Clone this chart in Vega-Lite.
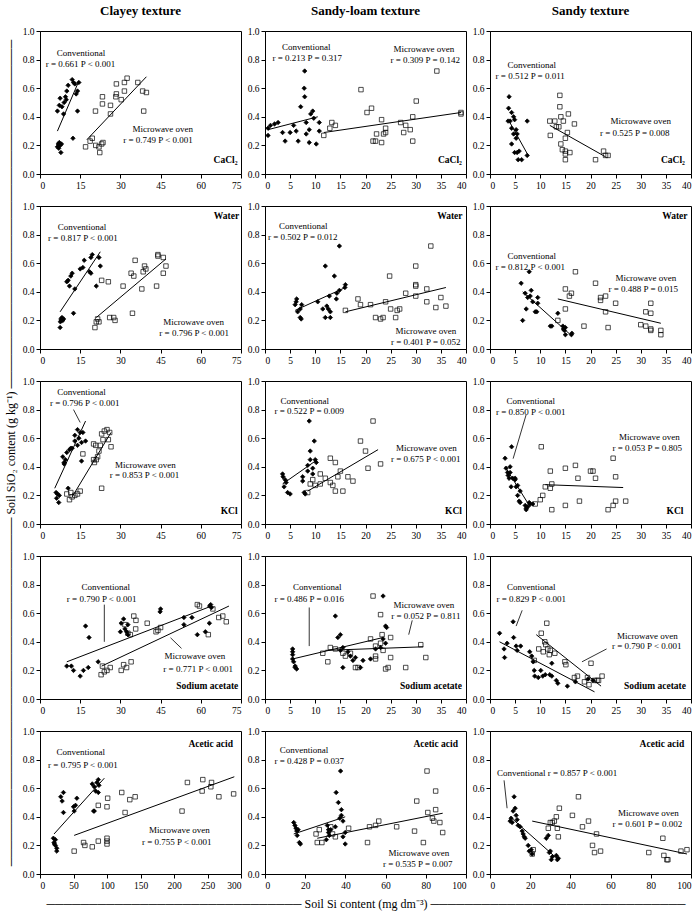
{
"$schema": "https://vega.github.io/schema/vega-lite/v6.json",
"padding": {"top": 4, "left": 3, "right": 5, "bottom": 4},
"background": "white",
"config": {
  "view": {"stroke": "black", "strokeWidth": 1},
  "axis": {"labelFont": "Liberation Serif", "labelFontSize": 9.5, "labelColor": "black", "domainColor": "black", "tickColor": "black", "tickSize": 4, "grid": false, "titleFont": "Liberation Serif", "titleFontWeight": "normal", "titleFontSize": 12, "titleColor": "black"},
  "title": {"font": "Liberation Serif", "fontSize": 13, "fontWeight": "bold", "offset": 8, "color": "black"}
},
"datasets": {
"pts": [
{"p":"1a","m":"C","x":6.5,"y":0.19},{"p":"1a","m":"C","x":6.8,"y":0.21},{"p":"1a","m":"C","x":7,"y":0.18},{"p":"1a","m":"C","x":7.2,"y":0.22},{"p":"1a","m":"C","x":7.5,"y":0.2},{"p":"1a","m":"C","x":7.8,"y":0.15},{"p":"1a","m":"C","x":8,"y":0.21},{"p":"1a","m":"C","x":6.5,"y":0.44},{"p":"1a","m":"C","x":7.2,"y":0.48},{"p":"1a","m":"C","x":7.5,"y":0.53},{"p":"1a","m":"C","x":8.2,"y":0.47},{"p":"1a","m":"C","x":8.8,"y":0.42},{"p":"1a","m":"C","x":9,"y":0.5},{"p":"1a","m":"C","x":9.5,"y":0.54},{"p":"1a","m":"C","x":9.8,"y":0.52},{"p":"1a","m":"C","x":10,"y":0.58},{"p":"1a","m":"C","x":10.5,"y":0.62},{"p":"1a","m":"C","x":12.3,"y":0.25},{"p":"1a","m":"C","x":12,"y":0.66},{"p":"1a","m":"C","x":12.5,"y":0.64},{"p":"1a","m":"C","x":13,"y":0.63},{"p":"1a","m":"C","x":13.5,"y":0.56},{"p":"1a","m":"C","x":14,"y":0.58},{"p":"1a","m":"C","x":14.5,"y":0.64},{"p":"1a","m":"C","x":14,"y":0.44},
{"p":"1a","m":"M","x":17,"y":0.19},{"p":"1a","m":"M","x":18.7,"y":0.23},{"p":"1a","m":"M","x":19.5,"y":0.25},{"p":"1a","m":"M","x":20.8,"y":0.2},{"p":"1a","m":"M","x":22,"y":0.19},{"p":"1a","m":"M","x":22.3,"y":0.15},{"p":"1a","m":"M","x":23,"y":0.21},{"p":"1a","m":"M","x":23.5,"y":0.22},{"p":"1a","m":"M","x":20.7,"y":0.44},{"p":"1a","m":"M","x":23.3,"y":0.54},{"p":"1a","m":"M","x":23.3,"y":0.49},{"p":"1a","m":"M","x":26.3,"y":0.48},{"p":"1a","m":"M","x":26.3,"y":0.42},{"p":"1a","m":"M","x":28.5,"y":0.56},{"p":"1a","m":"M","x":28.5,"y":0.63},{"p":"1a","m":"M","x":28.3,"y":0.54},{"p":"1a","m":"M","x":30.3,"y":0.52},{"p":"1a","m":"M","x":31.5,"y":0.58},{"p":"1a","m":"M","x":31.5,"y":0.64},{"p":"1a","m":"M","x":32.5,"y":0.67},{"p":"1a","m":"M","x":36.5,"y":0.64},{"p":"1a","m":"M","x":38.3,"y":0.58},{"p":"1a","m":"M","x":38.7,"y":0.44},{"p":"1a","m":"M","x":39.7,"y":0.57},
{"p":"1b","m":"C","x":0.6,"y":0.27},{"p":"1b","m":"C","x":0.6,"y":0.32},{"p":"1b","m":"C","x":1.1,"y":0.34},{"p":"1b","m":"C","x":1.9,"y":0.35},{"p":"1b","m":"C","x":2.6,"y":0.36},{"p":"1b","m":"C","x":3.5,"y":0.29},{"p":"1b","m":"C","x":4,"y":0.23},{"p":"1b","m":"C","x":5,"y":0.29},{"p":"1b","m":"C","x":5.7,"y":0.34},{"p":"1b","m":"C","x":6.2,"y":0.3},{"p":"1b","m":"C","x":6.6,"y":0.23},{"p":"1b","m":"C","x":7.1,"y":0.47},{"p":"1b","m":"C","x":7.8,"y":0.6},{"p":"1b","m":"C","x":7.9,"y":0.54},{"p":"1b","m":"C","x":7.9,"y":0.72},{"p":"1b","m":"C","x":8.2,"y":0.36},{"p":"1b","m":"C","x":8.2,"y":0.28},{"p":"1b","m":"C","x":8.8,"y":0.31},{"p":"1b","m":"C","x":8.8,"y":0.22},{"p":"1b","m":"C","x":9.1,"y":0.42},{"p":"1b","m":"C","x":9.5,"y":0.44},{"p":"1b","m":"C","x":9.7,"y":0.39},{"p":"1b","m":"C","x":10.2,"y":0.21},{"p":"1b","m":"C","x":10.8,"y":0.36},{"p":"1b","m":"C","x":10.8,"y":0.3},
{"p":"1b","m":"M","x":11.7,"y":0.27},{"p":"1b","m":"M","x":12.9,"y":0.32},{"p":"1b","m":"M","x":13.3,"y":0.36},{"p":"1b","m":"M","x":14,"y":0.34},{"p":"1b","m":"M","x":19.1,"y":0.59},{"p":"1b","m":"M","x":20.3,"y":0.43},{"p":"1b","m":"M","x":21.2,"y":0.46},{"p":"1b","m":"M","x":21.5,"y":0.23},{"p":"1b","m":"M","x":22,"y":0.23},{"p":"1b","m":"M","x":22.2,"y":0.28},{"p":"1b","m":"M","x":23.2,"y":0.38},{"p":"1b","m":"M","x":23.2,"y":0.22},{"p":"1b","m":"M","x":23.6,"y":0.28},{"p":"1b","m":"M","x":24,"y":0.29},{"p":"1b","m":"M","x":24,"y":0.32},{"p":"1b","m":"M","x":27,"y":0.36},{"p":"1b","m":"M","x":27.6,"y":0.29},{"p":"1b","m":"M","x":28,"y":0.34},{"p":"1b","m":"M","x":28.9,"y":0.31},{"p":"1b","m":"M","x":29.4,"y":0.23},{"p":"1b","m":"M","x":29.4,"y":0.4},{"p":"1b","m":"M","x":30.1,"y":0.51},{"p":"1b","m":"M","x":34.2,"y":0.72},{"p":"1b","m":"M","x":39,"y":0.43},{"p":"1b","m":"M","x":39,"y":0.42},
{"p":"1c","m":"C","x":3.8,"y":0.54},{"p":"1c","m":"C","x":3.7,"y":0.46},{"p":"1c","m":"C","x":3.6,"y":0.37},{"p":"1c","m":"C","x":4,"y":0.37},{"p":"1c","m":"C","x":4.3,"y":0.32},{"p":"1c","m":"C","x":4.3,"y":0.21},{"p":"1c","m":"C","x":4.7,"y":0.4},{"p":"1c","m":"C","x":4.9,"y":0.38},{"p":"1c","m":"C","x":4.7,"y":0.28},{"p":"1c","m":"C","x":5.2,"y":0.31},{"p":"1c","m":"C","x":5.2,"y":0.25},{"p":"1c","m":"C","x":5.4,"y":0.28},{"p":"1c","m":"C","x":4.9,"y":0.15},{"p":"1c","m":"C","x":5.4,"y":0.15},{"p":"1c","m":"C","x":5.8,"y":0.16},{"p":"1c","m":"C","x":5.6,"y":0.1},{"p":"1c","m":"C","x":6.3,"y":0.1},{"p":"1c","m":"C","x":7.4,"y":0.37},{"p":"1c","m":"C","x":7.4,"y":0.13},{"p":"1c","m":"C","x":4.3,"y":0.43},
{"p":"1c","m":"M","x":11.9,"y":0.37},{"p":"1c","m":"M","x":12,"y":0.27},{"p":"1c","m":"M","x":12.9,"y":0.37},{"p":"1c","m":"M","x":13.2,"y":0.33},{"p":"1c","m":"M","x":13.7,"y":0.33},{"p":"1c","m":"M","x":13.9,"y":0.55},{"p":"1c","m":"M","x":13.9,"y":0.47},{"p":"1c","m":"M","x":14.1,"y":0.4},{"p":"1c","m":"M","x":14.1,"y":0.21},{"p":"1c","m":"M","x":14.6,"y":0.37},{"p":"1c","m":"M","x":14.4,"y":0.17},{"p":"1c","m":"M","x":15,"y":0.16},{"p":"1c","m":"M","x":15,"y":0.14},{"p":"1c","m":"M","x":15,"y":0.1},{"p":"1c","m":"M","x":15,"y":0.25},{"p":"1c","m":"M","x":15.4,"y":0.29},{"p":"1c","m":"M","x":15.6,"y":0.42},{"p":"1c","m":"M","x":15.9,"y":0.15},{"p":"1c","m":"M","x":16.8,"y":0.35},{"p":"1c","m":"M","x":21,"y":0.1},{"p":"1c","m":"M","x":22.6,"y":0.16},{"p":"1c","m":"M","x":23,"y":0.13},{"p":"1c","m":"M","x":23.5,"y":0.13},
{"p":"2a","m":"C","x":7.5,"y":0.15},{"p":"2a","m":"C","x":7.6,"y":0.19},{"p":"2a","m":"C","x":7.8,"y":0.21},{"p":"2a","m":"C","x":8,"y":0.2},{"p":"2a","m":"C","x":8.2,"y":0.22},{"p":"2a","m":"C","x":8.5,"y":0.2},{"p":"2a","m":"C","x":8.8,"y":0.21},{"p":"2a","m":"C","x":10,"y":0.47},{"p":"2a","m":"C","x":10.5,"y":0.48},{"p":"2a","m":"C","x":11,"y":0.44},{"p":"2a","m":"C","x":11.5,"y":0.51},{"p":"2a","m":"C","x":12,"y":0.53},{"p":"2a","m":"C","x":12.5,"y":0.25},{"p":"2a","m":"C","x":13,"y":0.42},{"p":"2a","m":"C","x":15,"y":0.56},{"p":"2a","m":"C","x":16,"y":0.57},{"p":"2a","m":"C","x":16.5,"y":0.62},{"p":"2a","m":"C","x":18.5,"y":0.54},{"p":"2a","m":"C","x":19,"y":0.53},{"p":"2a","m":"C","x":19,"y":0.64},{"p":"2a","m":"C","x":19.5,"y":0.66},{"p":"2a","m":"C","x":21,"y":0.44},{"p":"2a","m":"C","x":22,"y":0.64},{"p":"2a","m":"C","x":22.5,"y":0.58},
{"p":"2a","m":"M","x":20.5,"y":0.15},{"p":"2a","m":"M","x":21,"y":0.19},{"p":"2a","m":"M","x":21.5,"y":0.21},{"p":"2a","m":"M","x":22,"y":0.19},{"p":"2a","m":"M","x":23,"y":0.48},{"p":"2a","m":"M","x":25.5,"y":0.47},{"p":"2a","m":"M","x":26,"y":0.22},{"p":"2a","m":"M","x":27.5,"y":0.22},{"p":"2a","m":"M","x":28,"y":0.2},{"p":"2a","m":"M","x":31,"y":0.44},{"p":"2a","m":"M","x":34,"y":0.53},{"p":"2a","m":"M","x":34.5,"y":0.25},{"p":"2a","m":"M","x":35,"y":0.51},{"p":"2a","m":"M","x":35.5,"y":0.62},{"p":"2a","m":"M","x":38,"y":0.42},{"p":"2a","m":"M","x":38.5,"y":0.54},{"p":"2a","m":"M","x":39,"y":0.58},{"p":"2a","m":"M","x":39.5,"y":0.56},{"p":"2a","m":"M","x":43.5,"y":0.44},{"p":"2a","m":"M","x":44,"y":0.66},{"p":"2a","m":"M","x":44,"y":0.65},{"p":"2a","m":"M","x":46,"y":0.64},{"p":"2a","m":"M","x":46,"y":0.53},{"p":"2a","m":"M","x":47,"y":0.58},
{"p":"2b","m":"C","x":6,"y":0.31},{"p":"2b","m":"C","x":6.2,"y":0.33},{"p":"2b","m":"C","x":6.3,"y":0.35},{"p":"2b","m":"C","x":6.5,"y":0.26},{"p":"2b","m":"C","x":7,"y":0.28},{"p":"2b","m":"C","x":7,"y":0.22},{"p":"2b","m":"C","x":7.2,"y":0.21},{"p":"2b","m":"C","x":7.3,"y":0.31},{"p":"2b","m":"C","x":10.5,"y":0.33},{"p":"2b","m":"C","x":11.5,"y":0.28},{"p":"2b","m":"C","x":12,"y":0.22},{"p":"2b","m":"C","x":12,"y":0.58},{"p":"2b","m":"C","x":12.3,"y":0.3},{"p":"2b","m":"C","x":12.6,"y":0.28},{"p":"2b","m":"C","x":12.8,"y":0.37},{"p":"2b","m":"C","x":13,"y":0.22},{"p":"2b","m":"C","x":13,"y":0.26},{"p":"2b","m":"C","x":13.8,"y":0.51},{"p":"2b","m":"C","x":14.2,"y":0.35},{"p":"2b","m":"C","x":14.3,"y":0.39},{"p":"2b","m":"C","x":14.8,"y":0.72},{"p":"2b","m":"C","x":14.8,"y":0.41},{"p":"2b","m":"C","x":15.9,"y":0.43},{"p":"2b","m":"C","x":16,"y":0.45},
{"p":"2b","m":"M","x":16,"y":0.27},{"p":"2b","m":"M","x":18.5,"y":0.35},{"p":"2b","m":"M","x":19,"y":0.31},{"p":"2b","m":"M","x":21,"y":0.31},{"p":"2b","m":"M","x":22,"y":0.22},{"p":"2b","m":"M","x":23,"y":0.21},{"p":"2b","m":"M","x":23.5,"y":0.22},{"p":"2b","m":"M","x":24,"y":0.33},{"p":"2b","m":"M","x":24.8,"y":0.51},{"p":"2b","m":"M","x":25,"y":0.28},{"p":"2b","m":"M","x":26,"y":0.22},{"p":"2b","m":"M","x":26.3,"y":0.27},{"p":"2b","m":"M","x":26.8,"y":0.28},{"p":"2b","m":"M","x":28,"y":0.39},{"p":"2b","m":"M","x":30,"y":0.58},{"p":"2b","m":"M","x":30,"y":0.44},{"p":"2b","m":"M","x":30,"y":0.45},{"p":"2b","m":"M","x":30,"y":0.37},{"p":"2b","m":"M","x":32.2,"y":0.42},{"p":"2b","m":"M","x":32.2,"y":0.33},{"p":"2b","m":"M","x":33,"y":0.72},{"p":"2b","m":"M","x":34,"y":0.29},{"p":"2b","m":"M","x":35,"y":0.36},{"p":"2b","m":"M","x":36,"y":0.3},
{"p":"2c","m":"C","x":6.2,"y":0.46},{"p":"2c","m":"C","x":6.5,"y":0.2},{"p":"2c","m":"C","x":7,"y":0.39},{"p":"2c","m":"C","x":7.2,"y":0.28},{"p":"2c","m":"C","x":7.5,"y":0.36},{"p":"2c","m":"C","x":7.8,"y":0.54},{"p":"2c","m":"C","x":8,"y":0.37},{"p":"2c","m":"C","x":8.2,"y":0.41},{"p":"2c","m":"C","x":8.5,"y":0.33},{"p":"2c","m":"C","x":9,"y":0.26},{"p":"2c","m":"C","x":9.3,"y":0.26},{"p":"2c","m":"C","x":9.5,"y":0.36},{"p":"2c","m":"C","x":9.5,"y":0.32},{"p":"2c","m":"C","x":12,"y":0.16},{"p":"2c","m":"C","x":12.3,"y":0.16},{"p":"2c","m":"C","x":13.5,"y":0.25},{"p":"2c","m":"C","x":14.5,"y":0.16},{"p":"2c","m":"C","x":14.6,"y":0.14},{"p":"2c","m":"C","x":14.8,"y":0.13},{"p":"2c","m":"C","x":15,"y":0.15},{"p":"2c","m":"C","x":15,"y":0.1},{"p":"2c","m":"C","x":16.2,"y":0.1},{"p":"2c","m":"C","x":16.3,"y":0.11},
{"p":"2c","m":"M","x":13.5,"y":0.2},{"p":"2c","m":"M","x":15,"y":0.42},{"p":"2c","m":"M","x":15,"y":0.28},{"p":"2c","m":"M","x":15.8,"y":0.37},{"p":"2c","m":"M","x":16.2,"y":0.39},{"p":"2c","m":"M","x":17,"y":0.54},{"p":"2c","m":"M","x":18.7,"y":0.16},{"p":"2c","m":"M","x":21,"y":0.46},{"p":"2c","m":"M","x":22,"y":0.34},{"p":"2c","m":"M","x":22,"y":0.36},{"p":"2c","m":"M","x":23,"y":0.37},{"p":"2c","m":"M","x":23,"y":0.26},{"p":"2c","m":"M","x":23.5,"y":0.15},{"p":"2c","m":"M","x":25,"y":0.32},{"p":"2c","m":"M","x":30,"y":0.17},{"p":"2c","m":"M","x":31,"y":0.26},{"p":"2c","m":"M","x":31,"y":0.16},{"p":"2c","m":"M","x":32,"y":0.32},{"p":"2c","m":"M","x":32,"y":0.25},{"p":"2c","m":"M","x":32,"y":0.14},{"p":"2c","m":"M","x":32,"y":0.13},{"p":"2c","m":"M","x":34,"y":0.13},{"p":"2c","m":"M","x":34,"y":0.1},
{"p":"3a","m":"C","x":6,"y":0.22},{"p":"3a","m":"C","x":6.2,"y":0.18},{"p":"3a","m":"C","x":6.5,"y":0.21},{"p":"3a","m":"C","x":7,"y":0.15},{"p":"3a","m":"C","x":7.2,"y":0.2},{"p":"3a","m":"C","x":8.5,"y":0.47},{"p":"3a","m":"C","x":9,"y":0.43},{"p":"3a","m":"C","x":9,"y":0.42},{"p":"3a","m":"C","x":9.5,"y":0.45},{"p":"3a","m":"C","x":10,"y":0.5},{"p":"3a","m":"C","x":10.5,"y":0.25},{"p":"3a","m":"C","x":11,"y":0.52},{"p":"3a","m":"C","x":11.5,"y":0.53},{"p":"3a","m":"C","x":12,"y":0.53},{"p":"3a","m":"C","x":13,"y":0.58},{"p":"3a","m":"C","x":13,"y":0.62},{"p":"3a","m":"C","x":14,"y":0.55},{"p":"3a","m":"C","x":14,"y":0.66},{"p":"3a","m":"C","x":14.5,"y":0.6},{"p":"3a","m":"C","x":15,"y":0.64},{"p":"3a","m":"C","x":15.5,"y":0.57},{"p":"3a","m":"C","x":16,"y":0.64},{"p":"3a","m":"C","x":15.5,"y":0.44},{"p":"3a","m":"C","x":17,"y":0.58},
{"p":"3a","m":"M","x":10,"y":0.21},{"p":"3a","m":"M","x":11,"y":0.17},{"p":"3a","m":"M","x":11.5,"y":0.22},{"p":"3a","m":"M","x":12,"y":0.19},{"p":"3a","m":"M","x":13,"y":0.2},{"p":"3a","m":"M","x":14,"y":0.21},{"p":"3a","m":"M","x":15,"y":0.23},{"p":"3a","m":"M","x":16,"y":0.49},{"p":"3a","m":"M","x":20,"y":0.56},{"p":"3a","m":"M","x":20,"y":0.45},{"p":"3a","m":"M","x":20.3,"y":0.43},{"p":"3a","m":"M","x":20.8,"y":0.55},{"p":"3a","m":"M","x":21,"y":0.45},{"p":"3a","m":"M","x":21.5,"y":0.47},{"p":"3a","m":"M","x":22,"y":0.51},{"p":"3a","m":"M","x":22.5,"y":0.55},{"p":"3a","m":"M","x":23,"y":0.25},{"p":"3a","m":"M","x":23,"y":0.63},{"p":"3a","m":"M","x":23.5,"y":0.59},{"p":"3a","m":"M","x":24,"y":0.65},{"p":"3a","m":"M","x":25,"y":0.66},{"p":"3a","m":"M","x":25.5,"y":0.59},{"p":"3a","m":"M","x":26,"y":0.64},{"p":"3a","m":"M","x":26.5,"y":0.54},
{"p":"3b","m":"C","x":3.5,"y":0.35},{"p":"3b","m":"C","x":3.6,"y":0.33},{"p":"3b","m":"C","x":3.8,"y":0.26},{"p":"3b","m":"C","x":4,"y":0.31},{"p":"3b","m":"C","x":4.2,"y":0.29},{"p":"3b","m":"C","x":4.5,"y":0.22},{"p":"3b","m":"C","x":5,"y":0.21},{"p":"3b","m":"C","x":7.5,"y":0.33},{"p":"3b","m":"C","x":7.5,"y":0.3},{"p":"3b","m":"C","x":7.8,"y":0.22},{"p":"3b","m":"C","x":8,"y":0.21},{"p":"3b","m":"C","x":8.5,"y":0.37},{"p":"3b","m":"C","x":8.5,"y":0.41},{"p":"3b","m":"C","x":8.8,"y":0.72},{"p":"3b","m":"C","x":9,"y":0.51},{"p":"3b","m":"C","x":9,"y":0.45},{"p":"3b","m":"C","x":9.5,"y":0.35},{"p":"3b","m":"C","x":9.5,"y":0.39},{"p":"3b","m":"C","x":9.8,"y":0.58},{"p":"3b","m":"C","x":10,"y":0.45},{"p":"3b","m":"C","x":10.2,"y":0.43},
{"p":"3b","m":"M","x":8.5,"y":0.22},{"p":"3b","m":"M","x":9,"y":0.28},{"p":"3b","m":"M","x":9.5,"y":0.31},{"p":"3b","m":"M","x":10,"y":0.27},{"p":"3b","m":"M","x":11,"y":0.28},{"p":"3b","m":"M","x":11,"y":0.35},{"p":"3b","m":"M","x":12,"y":0.32},{"p":"3b","m":"M","x":13,"y":0.46},{"p":"3b","m":"M","x":13,"y":0.29},{"p":"3b","m":"M","x":13.5,"y":0.27},{"p":"3b","m":"M","x":14,"y":0.43},{"p":"3b","m":"M","x":14,"y":0.23},{"p":"3b","m":"M","x":14.5,"y":0.33},{"p":"3b","m":"M","x":15,"y":0.37},{"p":"3b","m":"M","x":15.5,"y":0.23},{"p":"3b","m":"M","x":16.5,"y":0.33},{"p":"3b","m":"M","x":17.5,"y":0.3},{"p":"3b","m":"M","x":19,"y":0.58},{"p":"3b","m":"M","x":20,"y":0.51},{"p":"3b","m":"M","x":20.5,"y":0.39},{"p":"3b","m":"M","x":21.5,"y":0.72},{"p":"3b","m":"M","x":23,"y":0.42},
{"p":"3c","m":"C","x":3,"y":0.46},{"p":"3c","m":"C","x":3.2,"y":0.39},{"p":"3c","m":"C","x":3.5,"y":0.36},{"p":"3c","m":"C","x":3.6,"y":0.34},{"p":"3c","m":"C","x":3.8,"y":0.32},{"p":"3c","m":"C","x":4,"y":0.36},{"p":"3c","m":"C","x":4,"y":0.4},{"p":"3c","m":"C","x":4.2,"y":0.26},{"p":"3c","m":"C","x":4.3,"y":0.54},{"p":"3c","m":"C","x":4.5,"y":0.32},{"p":"3c","m":"C","x":5,"y":0.31},{"p":"3c","m":"C","x":5,"y":0.32},{"p":"3c","m":"C","x":5.2,"y":0.26},{"p":"3c","m":"C","x":5.5,"y":0.27},{"p":"3c","m":"C","x":5.5,"y":0.2},{"p":"3c","m":"C","x":5.8,"y":0.16},{"p":"3c","m":"C","x":6,"y":0.15},{"p":"3c","m":"C","x":6,"y":0.23},{"p":"3c","m":"C","x":7,"y":0.13},{"p":"3c","m":"C","x":7.2,"y":0.11},{"p":"3c","m":"C","x":7.5,"y":0.12},{"p":"3c","m":"C","x":7.8,"y":0.15},{"p":"3c","m":"C","x":8,"y":0.14},{"p":"3c","m":"C","x":8.5,"y":0.14},{"p":"3c","m":"C","x":7.2,"y":0.1},
{"p":"3c","m":"M","x":9,"y":0.14},{"p":"3c","m":"M","x":10,"y":0.17},{"p":"3c","m":"M","x":10.2,"y":0.54},{"p":"3c","m":"M","x":10.5,"y":0.2},{"p":"3c","m":"M","x":11,"y":0.26},{"p":"3c","m":"M","x":12,"y":0.25},{"p":"3c","m":"M","x":12,"y":0.37},{"p":"3c","m":"M","x":12.3,"y":0.28},{"p":"3c","m":"M","x":12.3,"y":0.1},{"p":"3c","m":"M","x":15,"y":0.13},{"p":"3c","m":"M","x":15,"y":0.39},{"p":"3c","m":"M","x":17,"y":0.41},{"p":"3c","m":"M","x":17.5,"y":0.32},{"p":"3c","m":"M","x":17.8,"y":0.16},{"p":"3c","m":"M","x":20,"y":0.37},{"p":"3c","m":"M","x":20.5,"y":0.37},{"p":"3c","m":"M","x":21,"y":0.32},{"p":"3c","m":"M","x":23.5,"y":0.1},{"p":"3c","m":"M","x":24.5,"y":0.46},{"p":"3c","m":"M","x":24.5,"y":0.13},{"p":"3c","m":"M","x":25,"y":0.33},{"p":"3c","m":"M","x":25,"y":0.16},{"p":"3c","m":"M","x":27,"y":0.16},
{"p":"4a","m":"C","x":10,"y":0.23},{"p":"4a","m":"C","x":11.7,"y":0.23},{"p":"4a","m":"C","x":12.5,"y":0.2},{"p":"4a","m":"C","x":15,"y":0.16},{"p":"4a","m":"C","x":16.2,"y":0.2},{"p":"4a","m":"C","x":17,"y":0.51},{"p":"4a","m":"C","x":18.3,"y":0.43},{"p":"4a","m":"C","x":18,"y":0.22},{"p":"4a","m":"C","x":21.7,"y":0.26},{"p":"4a","m":"C","x":30,"y":0.47},{"p":"4a","m":"C","x":30.3,"y":0.53},{"p":"4a","m":"C","x":31.2,"y":0.56},{"p":"4a","m":"C","x":31.7,"y":0.49},{"p":"4a","m":"C","x":32.3,"y":0.47},{"p":"4a","m":"C","x":32.8,"y":0.45},{"p":"4a","m":"C","x":32.8,"y":0.52},{"p":"4a","m":"C","x":44.8,"y":0.61},{"p":"4a","m":"C","x":45,"y":0.63},{"p":"4a","m":"C","x":53.7,"y":0.52},{"p":"4a","m":"C","x":53.7,"y":0.57},{"p":"4a","m":"C","x":56.7,"y":0.57},{"p":"4a","m":"C","x":58.7,"y":0.45},{"p":"4a","m":"C","x":61.7,"y":0.47},{"p":"4a","m":"C","x":63.2,"y":0.53},{"p":"4a","m":"C","x":63.3,"y":0.65},{"p":"4a","m":"C","x":64,"y":0.64},{"p":"4a","m":"C","x":63.7,"y":0.66},
{"p":"4a","m":"M","x":22.8,"y":0.17},{"p":"4a","m":"M","x":23.3,"y":0.23},{"p":"4a","m":"M","x":24,"y":0.19},{"p":"4a","m":"M","x":25,"y":0.2},{"p":"4a","m":"M","x":26.2,"y":0.22},{"p":"4a","m":"M","x":30.3,"y":0.2},{"p":"4a","m":"M","x":31.2,"y":0.24},{"p":"4a","m":"M","x":32.3,"y":0.22},{"p":"4a","m":"M","x":34,"y":0.26},{"p":"4a","m":"M","x":31.7,"y":0.52},{"p":"4a","m":"M","x":32.8,"y":0.46},{"p":"4a","m":"M","x":33.7,"y":0.45},{"p":"4a","m":"M","x":35,"y":0.58},{"p":"4a","m":"M","x":35.7,"y":0.49},{"p":"4a","m":"M","x":35.8,"y":0.55},{"p":"4a","m":"M","x":40,"y":0.53},{"p":"4a","m":"M","x":43.3,"y":0.47},{"p":"4a","m":"M","x":44,"y":0.48},{"p":"4a","m":"M","x":45,"y":0.5},{"p":"4a","m":"M","x":58.7,"y":0.66},{"p":"4a","m":"M","x":59.5,"y":0.65},{"p":"4a","m":"M","x":62.8,"y":0.45},{"p":"4a","m":"M","x":64.5,"y":0.63},{"p":"4a","m":"M","x":66.7,"y":0.57},{"p":"4a","m":"M","x":68.2,"y":0.58},{"p":"4a","m":"M","x":69.5,"y":0.54},
{"p":"4b","m":"C","x":5.5,"y":0.35},{"p":"4b","m":"C","x":5.5,"y":0.33},{"p":"4b","m":"C","x":5.5,"y":0.31},{"p":"4b","m":"C","x":5.5,"y":0.28},{"p":"4b","m":"C","x":5.7,"y":0.26},{"p":"4b","m":"C","x":6,"y":0.23},{"p":"4b","m":"C","x":6,"y":0.22},{"p":"4b","m":"C","x":6.3,"y":0.21},{"p":"4b","m":"C","x":14,"y":0.58},{"p":"4b","m":"C","x":14.5,"y":0.43},{"p":"4b","m":"C","x":15,"y":0.34},{"p":"4b","m":"C","x":15,"y":0.45},{"p":"4b","m":"C","x":15.5,"y":0.22},{"p":"4b","m":"C","x":15.5,"y":0.36},{"p":"4b","m":"C","x":16.5,"y":0.33},{"p":"4b","m":"C","x":17,"y":0.3},{"p":"4b","m":"C","x":17.5,"y":0.27},{"p":"4b","m":"C","x":18,"y":0.29},{"p":"4b","m":"C","x":19,"y":0.22},{"p":"4b","m":"C","x":19.5,"y":0.27},{"p":"4b","m":"C","x":21,"y":0.28},{"p":"4b","m":"C","x":22,"y":0.35},{"p":"4b","m":"C","x":23,"y":0.36},{"p":"4b","m":"C","x":23.5,"y":0.72},{"p":"4b","m":"C","x":23.5,"y":0.42},{"p":"4b","m":"C","x":24,"y":0.51},{"p":"4b","m":"C","x":24.2,"y":0.5},{"p":"4b","m":"C","x":24,"y":0.39},
{"p":"4b","m":"M","x":11.5,"y":0.32},{"p":"4b","m":"M","x":12.5,"y":0.26},{"p":"4b","m":"M","x":13,"y":0.36},{"p":"4b","m":"M","x":14,"y":0.35},{"p":"4b","m":"M","x":15.5,"y":0.32},{"p":"4b","m":"M","x":16,"y":0.3},{"p":"4b","m":"M","x":17,"y":0.32},{"p":"4b","m":"M","x":18,"y":0.22},{"p":"4b","m":"M","x":18.5,"y":0.22},{"p":"4b","m":"M","x":21,"y":0.42},{"p":"4b","m":"M","x":21.5,"y":0.72},{"p":"4b","m":"M","x":22,"y":0.3},{"p":"4b","m":"M","x":22,"y":0.37},{"p":"4b","m":"M","x":22,"y":0.28},{"p":"4b","m":"M","x":23,"y":0.59},{"p":"4b","m":"M","x":23,"y":0.39},{"p":"4b","m":"M","x":23.3,"y":0.45},{"p":"4b","m":"M","x":23.5,"y":0.34},{"p":"4b","m":"M","x":24,"y":0.21},{"p":"4b","m":"M","x":24.5,"y":0.22},{"p":"4b","m":"M","x":25,"y":0.43},{"p":"4b","m":"M","x":25,"y":0.29},{"p":"4b","m":"M","x":28,"y":0.22},{"p":"4b","m":"M","x":31,"y":0.38},{"p":"4b","m":"M","x":32,"y":0.29},
{"p":"4c","m":"C","x":1.9,"y":0.46},{"p":"4c","m":"C","x":2.8,"y":0.35},{"p":"4c","m":"C","x":2.9,"y":0.29},{"p":"4c","m":"C","x":3.4,"y":0.39},{"p":"4c","m":"C","x":4.6,"y":0.54},{"p":"4c","m":"C","x":4.7,"y":0.43},{"p":"4c","m":"C","x":5.2,"y":0.37},{"p":"4c","m":"C","x":5.4,"y":0.34},{"p":"4c","m":"C","x":6.1,"y":0.37},{"p":"4c","m":"C","x":7.9,"y":0.33},{"p":"4c","m":"C","x":8.3,"y":0.3},{"p":"4c","m":"C","x":8.6,"y":0.26},{"p":"4c","m":"C","x":8.8,"y":0.2},{"p":"4c","m":"C","x":8.9,"y":0.16},{"p":"4c","m":"C","x":9.6,"y":0.15},{"p":"4c","m":"C","x":10.1,"y":0.2},{"p":"4c","m":"C","x":10.5,"y":0.16},{"p":"4c","m":"C","x":11,"y":0.17},{"p":"4c","m":"C","x":11.9,"y":0.17},{"p":"4c","m":"C","x":12.3,"y":0.16},{"p":"4c","m":"C","x":12.3,"y":0.25},{"p":"4c","m":"C","x":13.2,"y":0.13},{"p":"4c","m":"C","x":13.5,"y":0.11},{"p":"4c","m":"C","x":15.4,"y":0.09},{"p":"4c","m":"C","x":17,"y":0.12},{"p":"4c","m":"C","x":19.5,"y":0.14},{"p":"4c","m":"C","x":20.5,"y":0.13},
{"p":"4c","m":"M","x":8.8,"y":0.27},{"p":"4c","m":"M","x":9.7,"y":0.35},{"p":"4c","m":"M","x":10.2,"y":0.46},{"p":"4c","m":"M","x":10.6,"y":0.33},{"p":"4c","m":"M","x":10.9,"y":0.4},{"p":"4c","m":"M","x":11.1,"y":0.38},{"p":"4c","m":"M","x":11.3,"y":0.53},{"p":"4c","m":"M","x":11.5,"y":0.35},{"p":"4c","m":"M","x":11.8,"y":0.31},{"p":"4c","m":"M","x":12,"y":0.34},{"p":"4c","m":"M","x":12.9,"y":0.32},{"p":"4c","m":"M","x":14.9,"y":0.26},{"p":"4c","m":"M","x":15.1,"y":0.24},{"p":"4c","m":"M","x":16.8,"y":0.15},{"p":"4c","m":"M","x":17.4,"y":0.16},{"p":"4c","m":"M","x":18.8,"y":0.12},{"p":"4c","m":"M","x":19.4,"y":0.15},{"p":"4c","m":"M","x":19.7,"y":0.1},{"p":"4c","m":"M","x":20.1,"y":0.25},{"p":"4c","m":"M","x":20.8,"y":0.13},{"p":"4c","m":"M","x":21.3,"y":0.13},{"p":"4c","m":"M","x":21.6,"y":0.13},{"p":"4c","m":"M","x":22.3,"y":0.16},
{"p":"5a","m":"C","x":20,"y":0.25},{"p":"5a","m":"C","x":21,"y":0.22},{"p":"5a","m":"C","x":21.5,"y":0.21},{"p":"5a","m":"C","x":23,"y":0.24},{"p":"5a","m":"C","x":23,"y":0.2},{"p":"5a","m":"C","x":25,"y":0.18},{"p":"5a","m":"C","x":25,"y":0.16},{"p":"5a","m":"C","x":31,"y":0.54},{"p":"5a","m":"C","x":35,"y":0.57},{"p":"5a","m":"C","x":33,"y":0.51},{"p":"5a","m":"C","x":35,"y":0.43},{"p":"5a","m":"C","x":50,"y":0.47},{"p":"5a","m":"C","x":53,"y":0.48},{"p":"5a","m":"C","x":55,"y":0.53},{"p":"5a","m":"C","x":51,"y":0.44},{"p":"5a","m":"C","x":78,"y":0.63},{"p":"5a","m":"C","x":80,"y":0.44},{"p":"5a","m":"C","x":81,"y":0.44},{"p":"5a","m":"C","x":81,"y":0.61},{"p":"5a","m":"C","x":85,"y":0.64},{"p":"5a","m":"C","x":87,"y":0.66},{"p":"5a","m":"C","x":87,"y":0.57},{"p":"5a","m":"C","x":83,"y":0.58},{"p":"5a","m":"C","x":88,"y":0.62},
{"p":"5a","m":"M","x":51,"y":0.16},{"p":"5a","m":"M","x":65,"y":0.22},{"p":"5a","m":"M","x":67,"y":0.2},{"p":"5a","m":"M","x":78,"y":0.19},{"p":"5a","m":"M","x":87,"y":0.23},{"p":"5a","m":"M","x":87,"y":0.48},{"p":"5a","m":"M","x":100,"y":0.25},{"p":"5a","m":"M","x":100,"y":0.23},{"p":"5a","m":"M","x":100,"y":0.21},{"p":"5a","m":"M","x":100,"y":0.47},{"p":"5a","m":"M","x":101,"y":0.53},{"p":"5a","m":"M","x":122,"y":0.57},{"p":"5a","m":"M","x":127,"y":0.43},{"p":"5a","m":"M","x":134,"y":0.52},{"p":"5a","m":"M","x":142,"y":0.54},{"p":"5a","m":"M","x":212,"y":0.44},{"p":"5a","m":"M","x":220,"y":0.64},{"p":"5a","m":"M","x":242,"y":0.58},{"p":"5a","m":"M","x":243,"y":0.66},{"p":"5a","m":"M","x":255,"y":0.61},{"p":"5a","m":"M","x":256,"y":0.64},{"p":"5a","m":"M","x":267,"y":0.54},{"p":"5a","m":"M","x":289,"y":0.56},
{"p":"5b","m":"C","x":14.3,"y":0.36},{"p":"5b","m":"C","x":14.9,"y":0.34},{"p":"5b","m":"C","x":15.4,"y":0.32},{"p":"5b","m":"C","x":15.8,"y":0.3},{"p":"5b","m":"C","x":16,"y":0.27},{"p":"5b","m":"C","x":17.1,"y":0.22},{"p":"5b","m":"C","x":17.6,"y":0.21},{"p":"5b","m":"C","x":16.5,"y":0.31},{"p":"5b","m":"C","x":30.5,"y":0.24},{"p":"5b","m":"C","x":31,"y":0.34},{"p":"5b","m":"C","x":31.6,"y":0.31},{"p":"5b","m":"C","x":31.6,"y":0.29},{"p":"5b","m":"C","x":32,"y":0.27},{"p":"5b","m":"C","x":32.7,"y":0.31},{"p":"5b","m":"C","x":35,"y":0.33},{"p":"5b","m":"C","x":35.4,"y":0.57},{"p":"5b","m":"C","x":36.5,"y":0.5},{"p":"5b","m":"C","x":37.2,"y":0.39},{"p":"5b","m":"C","x":37.6,"y":0.72},{"p":"5b","m":"C","x":38,"y":0.45},{"p":"5b","m":"C","x":38,"y":0.41},{"p":"5b","m":"C","x":38.8,"y":0.37},{"p":"5b","m":"C","x":38.8,"y":0.26},{"p":"5b","m":"C","x":39.9,"y":0.21},{"p":"5b","m":"C","x":39.9,"y":0.29},
{"p":"5b","m":"M","x":25.4,"y":0.28},{"p":"5b","m":"M","x":26,"y":0.22},{"p":"5b","m":"M","x":27,"y":0.31},{"p":"5b","m":"M","x":28.3,"y":0.22},{"p":"5b","m":"M","x":32.7,"y":0.33},{"p":"5b","m":"M","x":33.6,"y":0.28},{"p":"5b","m":"M","x":35,"y":0.26},{"p":"5b","m":"M","x":41.6,"y":0.32},{"p":"5b","m":"M","x":51,"y":0.22},{"p":"5b","m":"M","x":52,"y":0.33},{"p":"5b","m":"M","x":55,"y":0.34},{"p":"5b","m":"M","x":56.6,"y":0.37},{"p":"5b","m":"M","x":65.5,"y":0.33},{"p":"5b","m":"M","x":74.4,"y":0.3},{"p":"5b","m":"M","x":75.5,"y":0.51},{"p":"5b","m":"M","x":78.8,"y":0.22},{"p":"5b","m":"M","x":80.6,"y":0.72},{"p":"5b","m":"M","x":81,"y":0.43},{"p":"5b","m":"M","x":83.3,"y":0.39},{"p":"5b","m":"M","x":84,"y":0.37},{"p":"5b","m":"M","x":84.9,"y":0.58},{"p":"5b","m":"M","x":84.9,"y":0.45},{"p":"5b","m":"M","x":87,"y":0.36},{"p":"5b","m":"M","x":88.4,"y":0.29},
{"p":"5c","m":"C","x":10,"y":0.37},{"p":"5c","m":"C","x":10.5,"y":0.39},{"p":"5c","m":"C","x":11,"y":0.36},{"p":"5c","m":"C","x":11.5,"y":0.44},{"p":"5c","m":"C","x":12,"y":0.54},{"p":"5c","m":"C","x":12.5,"y":0.46},{"p":"5c","m":"C","x":13,"y":0.41},{"p":"5c","m":"C","x":13.5,"y":0.38},{"p":"5c","m":"C","x":14,"y":0.34},{"p":"5c","m":"C","x":15,"y":0.33},{"p":"5c","m":"C","x":16,"y":0.3},{"p":"5c","m":"C","x":16.5,"y":0.28},{"p":"5c","m":"C","x":17,"y":0.26},{"p":"5c","m":"C","x":17.5,"y":0.25},{"p":"5c","m":"C","x":19,"y":0.2},{"p":"5c","m":"C","x":19.5,"y":0.16},{"p":"5c","m":"C","x":20.5,"y":0.17},{"p":"5c","m":"C","x":21,"y":0.14},{"p":"5c","m":"C","x":28,"y":0.25},{"p":"5c","m":"C","x":29,"y":0.27},{"p":"5c","m":"C","x":29.5,"y":0.15},{"p":"5c","m":"C","x":30,"y":0.16},{"p":"5c","m":"C","x":30.5,"y":0.1},{"p":"5c","m":"C","x":31,"y":0.12},{"p":"5c","m":"C","x":33,"y":0.13},{"p":"5c","m":"C","x":33.5,"y":0.1},{"p":"5c","m":"C","x":34,"y":0.11},
{"p":"5c","m":"M","x":21,"y":0.14},{"p":"5c","m":"M","x":21.5,"y":0.17},{"p":"5c","m":"M","x":29,"y":0.32},{"p":"5c","m":"M","x":30,"y":0.36},{"p":"5c","m":"M","x":31,"y":0.36},{"p":"5c","m":"M","x":32,"y":0.37},{"p":"5c","m":"M","x":33,"y":0.4},{"p":"5c","m":"M","x":33.5,"y":0.32},{"p":"5c","m":"M","x":34,"y":0.26},{"p":"5c","m":"M","x":34.5,"y":0.46},{"p":"5c","m":"M","x":41,"y":0.41},{"p":"5c","m":"M","x":44,"y":0.54},{"p":"5c","m":"M","x":46,"y":0.33},{"p":"5c","m":"M","x":49,"y":0.37},{"p":"5c","m":"M","x":51,"y":0.2},{"p":"5c","m":"M","x":52,"y":0.15},{"p":"5c","m":"M","x":53,"y":0.28},{"p":"5c","m":"M","x":55,"y":0.16},{"p":"5c","m":"M","x":79,"y":0.15},{"p":"5c","m":"M","x":86,"y":0.25},{"p":"5c","m":"M","x":86.5,"y":0.13},{"p":"5c","m":"M","x":88,"y":0.1},{"p":"5c","m":"M","x":88.5,"y":0.1},{"p":"5c","m":"M","x":95,"y":0.16},{"p":"5c","m":"M","x":98,"y":0.17}
],
"lines": [
{"p":"1a","m":"C","x":6.5,"y":0.3},{"p":"1a","m":"C","x":14.5,"y":0.65},{"p":"1a","m":"M","x":17.5,"y":0.24},{"p":"1a","m":"M","x":39.7,"y":0.68},
{"p":"1b","m":"C","x":0.6,"y":0.31},{"p":"1b","m":"C","x":10.5,"y":0.4},{"p":"1b","m":"M","x":11.7,"y":0.29},{"p":"1b","m":"M","x":39,"y":0.43},
{"p":"1c","m":"C","x":3.8,"y":0.37},{"p":"1c","m":"C","x":7.6,"y":0.13},{"p":"1c","m":"M","x":11.9,"y":0.34},{"p":"1c","m":"M","x":23,"y":0.12},
{"p":"2a","m":"C","x":7.5,"y":0.26},{"p":"2a","m":"C","x":22.5,"y":0.68},{"p":"2a","m":"M","x":21,"y":0.22},{"p":"2a","m":"M","x":47,"y":0.63},
{"p":"2b","m":"C","x":6,"y":0.27},{"p":"2b","m":"C","x":16,"y":0.43},{"p":"2b","m":"M","x":16,"y":0.26},{"p":"2b","m":"M","x":36,"y":0.43},
{"p":"2c","m":"C","x":6.5,"y":0.4},{"p":"2c","m":"C","x":16,"y":0.1},{"p":"2c","m":"M","x":13.5,"y":0.35},{"p":"2c","m":"M","x":34,"y":0.18},
{"p":"3a","m":"C","x":5.5,"y":0.25},{"p":"3a","m":"C","x":17,"y":0.72},{"p":"3a","m":"M","x":12,"y":0.19},{"p":"3a","m":"M","x":26.5,"y":0.64},
{"p":"3b","m":"C","x":3.5,"y":0.28},{"p":"3b","m":"C","x":10,"y":0.44},{"p":"3b","m":"M","x":8.5,"y":0.23},{"p":"3b","m":"M","x":22.5,"y":0.52},
{"p":"3c","m":"C","x":3,"y":0.4},{"p":"3c","m":"C","x":8,"y":0.12},{"p":"3c","m":"M","x":11,"y":0.275},{"p":"3c","m":"M","x":26.5,"y":0.255},
{"p":"4a","m":"C","x":10,"y":0.26},{"p":"4a","m":"C","x":64,"y":0.65},{"p":"4a","m":"M","x":23,"y":0.23},{"p":"4a","m":"M","x":70.5,"y":0.65},
{"p":"4b","m":"C","x":5.5,"y":0.28},{"p":"4b","m":"C","x":23.5,"y":0.43},{"p":"4b","m":"M","x":12,"y":0.34},{"p":"4b","m":"M","x":31.5,"y":0.365},
{"p":"4c","m":"C","x":1.9,"y":0.4},{"p":"4c","m":"C","x":20.8,"y":0.05},{"p":"4c","m":"M","x":9.2,"y":0.45},{"p":"4c","m":"M","x":22.1,"y":0.09},
{"p":"5a","m":"C","x":21,"y":0.28},{"p":"5a","m":"C","x":96,"y":0.67},{"p":"5a","m":"M","x":51,"y":0.27},{"p":"5a","m":"M","x":290,"y":0.68},
{"p":"5b","m":"C","x":14.3,"y":0.28},{"p":"5b","m":"C","x":39.9,"y":0.4},{"p":"5b","m":"M","x":26,"y":0.25},{"p":"5b","m":"M","x":88.4,"y":0.425},
{"p":"5c","m":"C","x":10,"y":0.4},{"p":"5c","m":"C","x":34,"y":0.1},{"p":"5c","m":"M","x":21,"y":0.37},{"p":"5c","m":"M","x":98,"y":0.14}
],
"notes": [
{"p":"1a","x":15.3,"y":0.845,"t":"Conventional"},{"p":"1a","x":15.1,"y":0.77,"t":"r = 0.661  P < 0.001"},{"p":"1a","x":45.8,"y":0.317,"t":"Microwave oven"},{"p":"1a","x":44,"y":0.24,"t":"r = 0.749  P < 0.001"},
{"p":"1b","x":8.2,"y":0.885,"t":"Conventional"},{"p":"1b","x":8.4,"y":0.81,"t":"r = 0.213  P = 0.317"},{"p":"1b","x":31.6,"y":0.875,"t":"Microwave oven"},{"p":"1b","x":31.9,"y":0.8,"t":"r = 0.309  P = 0.142"},
{"p":"1c","x":8.3,"y":0.76,"t":"Conventional"},{"p":"1c","x":8,"y":0.685,"t":"r = 0.512  P = 0.011"},{"p":"1c","x":30,"y":0.37,"t":"Microwave oven"},{"p":"1c","x":28.8,"y":0.29,"t":"r = 0.525  P = 0.008"},
{"p":"2a","x":15.7,"y":0.85,"t":"Conventional"},{"p":"2a","x":16,"y":0.775,"t":"r = 0.817  P < 0.001"},{"p":"2a","x":57.3,"y":0.19,"t":"Microwave oven"},{"p":"2a","x":57.5,"y":0.11,"t":"r = 0.796  P < 0.001"},
{"p":"2b","x":7.6,"y":0.86,"t":"Conventional"},{"p":"2b","x":7.5,"y":0.785,"t":"r = 0.502  P = 0.012"},{"p":"2b","x":32,"y":0.125,"t":"Microwave oven"},{"p":"2b","x":32,"y":0.05,"t":"r = 0.401  P = 0.052"},
{"p":"2c","x":8.3,"y":0.65,"t":"Conventional"},{"p":"2c","x":8,"y":0.57,"t":"r = 0.812  P < 0.001"},{"p":"2c","x":31,"y":0.5,"t":"Microwave oven"},{"p":"2c","x":30.5,"y":0.42,"t":"r = 0.488  P = 0.015"},
{"p":"3a","x":15.5,"y":0.925,"t":"Conventional"},{"p":"3a","x":16.7,"y":0.845,"t":"r = 0.796  P < 0.001"},{"p":"3a","x":39.3,"y":0.415,"t":"Microwave oven"},{"p":"3a","x":39,"y":0.34,"t":"r = 0.853  P < 0.001"},
{"p":"3b","x":7.9,"y":0.86,"t":"Conventional"},{"p":"3b","x":8.8,"y":0.79,"t":"r = 0.522  P = 0.009"},{"p":"3b","x":32.1,"y":0.53,"t":"Microwave oven"},{"p":"3b","x":32,"y":0.457,"t":"r = 0.675  P < 0.001"},
{"p":"3c","x":8.1,"y":0.86,"t":"Conventional"},{"p":"3c","x":8.1,"y":0.78,"t":"r = 0.850  P < 0.001"},{"p":"3c","x":31.7,"y":0.605,"t":"Microwave oven"},{"p":"3c","x":31.3,"y":0.53,"t":"r = 0.053  P = 0.805"},
{"p":"4a","x":24.5,"y":0.78,"t":"Conventional"},{"p":"4a","x":23,"y":0.7,"t":"r = 0.790  P < 0.001"},{"p":"4a","x":57.8,"y":0.3,"t":"Microwave oven"},{"p":"4a","x":59,"y":0.21,"t":"r = 0.771  P < 0.001"},
{"p":"4b","x":10.4,"y":0.78,"t":"Conventional"},{"p":"4b","x":8.8,"y":0.7,"t":"r = 0.486  P = 0.016"},{"p":"4b","x":31.6,"y":0.66,"t":"Microwave oven"},{"p":"4b","x":32,"y":0.58,"t":"r = 0.052  P = 0.811"},
{"p":"4c","x":8.2,"y":0.78,"t":"Conventional"},{"p":"4c","x":8.2,"y":0.7,"t":"r = 0.829  P < 0.001"},{"p":"4c","x":31.3,"y":0.44,"t":"Microwave oven"},{"p":"4c","x":31.2,"y":0.37,"t":"r = 0.790  P < 0.001"},
{"p":"5a","x":61,"y":0.85,"t":"Conventional"},{"p":"5a","x":64,"y":0.765,"t":"r = 0.795  P < 0.001"},{"p":"5a","x":208,"y":0.31,"t":"Microwave oven"},{"p":"5a","x":204,"y":0.225,"t":"r = 0.755  P < 0.001"},
{"p":"5b","x":19.4,"y":0.87,"t":"Conventional"},{"p":"5b","x":22,"y":0.79,"t":"r = 0.428  P = 0.037"},{"p":"5b","x":76.6,"y":0.15,"t":"Microwave oven"},{"p":"5b","x":76,"y":0.07,"t":"r = 0.535  P = 0.007"},
{"p":"5c","x":33.4,"y":0.705,"t":"Conventional  r = 0.857  P < 0.001"},{"p":"5c","x":78.8,"y":0.425,"t":"Microwave oven"},{"p":"5c","x":78.3,"y":0.35,"t":"r = 0.601  P = 0.002"}
],
"tags": [
{"p":"1a","x":73.7,"y":0.1,"t":"CaCl₂"},{"p":"1b","x":39.2,"y":0.1,"t":"CaCl₂"},{"p":"1c","x":38.8,"y":0.1,"t":"CaCl₂"},
{"p":"2a","x":74.3,"y":0.93,"t":"Water"},{"p":"2b","x":39.3,"y":0.93,"t":"Water"},{"p":"2c","x":39.3,"y":0.93,"t":"Water"},
{"p":"3a","x":73.7,"y":0.09,"t":"KCl"},{"p":"3b","x":39.2,"y":0.09,"t":"KCl"},{"p":"3c","x":38.5,"y":0.09,"t":"KCl"},
{"p":"4a","x":74,"y":0.09,"t":"Sodium acetate"},{"p":"4b","x":39.2,"y":0.09,"t":"Sodium acetate"},{"p":"4c","x":39,"y":0.09,"t":"Sodium acetate"},
{"p":"5a","x":288,"y":0.91,"t":"Acetic acid"},{"p":"5b","x":96,"y":0.91,"t":"Acetic acid"},{"p":"5c","x":96.6,"y":0.91,"t":"Acetic acid"}
],
"arrows": [
{"p":"3a","x":12.5,"y":0.8,"x2":15,"y2":0.71},
{"p":"3c","x":7.2,"y":0.765,"x2":4.6,"y2":0.457},
{"p":"4a","x":24,"y":0.66,"x2":24,"y2":0.4},{"p":"4a","x":52.8,"y":0.354,"x2":48.7,"y2":0.428},
{"p":"4b","x":8.8,"y":0.64,"x2":8.8,"y2":0.37},{"p":"4b","x":29.3,"y":0.55,"x2":28.6,"y2":0.45},
{"p":"4c","x":6.4,"y":0.62,"x2":5.2,"y2":0.51},{"p":"4c","x":23.2,"y":0.35,"x2":18.3,"y2":0.26},
{"p":"5c","x":7,"y":0.655,"x2":8.5,"y2":0.46}
]
},
"columns": 3,
"spacing": {"row": 32, "column": 24},
"bounds": "flush",
"concat": [
{"width":201,"height":143,"title":{"text":"Clayey texture"},
 "encoding":{"x":{"field":"x","type":"quantitative","scale":{"domain":[0,75],"nice":false,"zero":false},"axis":{"values":[0,15,30,45,60,75],"title":null}},"y":{"field":"y","type":"quantitative","scale":{"domain":[0,1],"nice":false},"axis":{"values":[0,0.2,0.4,0.6,0.8,1],"format":".1f","title":null}}},
 "layer":[
  {"data":{"name":"lines"},"transform":[{"filter":"datum.p=='1a'"}],"mark":{"type":"line","color":"black","strokeWidth":1},"encoding":{"detail":{"field":"m"}}},
  {"data":{"name":"pts"},"transform":[{"filter":"datum.p=='1a'"}],"mark":{"type":"point","filled":true,"size":20,"strokeWidth":0.7,"opacity":1},"encoding":{"shape":{"field":"m","scale":{"domain":["C","M"],"range":["diamond","square"]},"legend":null},"fill":{"field":"m","scale":{"domain":["C","M"],"range":["black","transparent"]},"legend":null},"stroke":{"value":"black"}}},
  {"data":{"name":"notes"},"transform":[{"filter":"datum.p=='1a'"}],"mark":{"type":"text","font":"Liberation Serif","fontSize":9,"color":"black"},"encoding":{"text":{"field":"t"}}},
  {"data":{"name":"tags"},"transform":[{"filter":"datum.p=='1a'"}],"mark":{"type":"text","font":"Liberation Serif","fontSize":9.5,"fontWeight":"bold","align":"right","color":"black"},"encoding":{"text":{"field":"t"}}}
 ]},
{"width":201,"height":143,"title":{"text":"Sandy-loam texture"},
 "encoding":{"x":{"field":"x","type":"quantitative","scale":{"domain":[0,40],"nice":false,"zero":false},"axis":{"values":[0,5,10,15,20,25,30,35,40],"title":null}},"y":{"field":"y","type":"quantitative","scale":{"domain":[0,1],"nice":false},"axis":{"values":[0,0.2,0.4,0.6,0.8,1],"format":".1f","title":null}}},
 "layer":[
  {"data":{"name":"lines"},"transform":[{"filter":"datum.p=='1b'"}],"mark":{"type":"line","color":"black","strokeWidth":1},"encoding":{"detail":{"field":"m"}}},
  {"data":{"name":"pts"},"transform":[{"filter":"datum.p=='1b'"}],"mark":{"type":"point","filled":true,"size":20,"strokeWidth":0.7,"opacity":1},"encoding":{"shape":{"field":"m","scale":{"domain":["C","M"],"range":["diamond","square"]},"legend":null},"fill":{"field":"m","scale":{"domain":["C","M"],"range":["black","transparent"]},"legend":null},"stroke":{"value":"black"}}},
  {"data":{"name":"notes"},"transform":[{"filter":"datum.p=='1b'"}],"mark":{"type":"text","font":"Liberation Serif","fontSize":9,"color":"black"},"encoding":{"text":{"field":"t"}}},
  {"data":{"name":"tags"},"transform":[{"filter":"datum.p=='1b'"}],"mark":{"type":"text","font":"Liberation Serif","fontSize":9.5,"fontWeight":"bold","align":"right","color":"black"},"encoding":{"text":{"field":"t"}}}
 ]},
{"width":201,"height":143,"title":{"text":"Sandy texture"},
 "encoding":{"x":{"field":"x","type":"quantitative","scale":{"domain":[0,40],"nice":false,"zero":false},"axis":{"values":[0,5,10,15,20,25,30,35,40],"title":null}},"y":{"field":"y","type":"quantitative","scale":{"domain":[0,1],"nice":false},"axis":{"values":[0,0.2,0.4,0.6,0.8,1],"format":".1f","title":null}}},
 "layer":[
  {"data":{"name":"lines"},"transform":[{"filter":"datum.p=='1c'"}],"mark":{"type":"line","color":"black","strokeWidth":1},"encoding":{"detail":{"field":"m"}}},
  {"data":{"name":"pts"},"transform":[{"filter":"datum.p=='1c'"}],"mark":{"type":"point","filled":true,"size":20,"strokeWidth":0.7,"opacity":1},"encoding":{"shape":{"field":"m","scale":{"domain":["C","M"],"range":["diamond","square"]},"legend":null},"fill":{"field":"m","scale":{"domain":["C","M"],"range":["black","transparent"]},"legend":null},"stroke":{"value":"black"}}},
  {"data":{"name":"notes"},"transform":[{"filter":"datum.p=='1c'"}],"mark":{"type":"text","font":"Liberation Serif","fontSize":9,"color":"black"},"encoding":{"text":{"field":"t"}}},
  {"data":{"name":"tags"},"transform":[{"filter":"datum.p=='1c'"}],"mark":{"type":"text","font":"Liberation Serif","fontSize":9.5,"fontWeight":"bold","align":"right","color":"black"},"encoding":{"text":{"field":"t"}}}
 ]},
{"width":201,"height":143,
 "encoding":{"x":{"field":"x","type":"quantitative","scale":{"domain":[0,75],"nice":false,"zero":false},"axis":{"values":[0,15,30,45,60,75],"title":null}},"y":{"field":"y","type":"quantitative","scale":{"domain":[0,1],"nice":false},"axis":{"values":[0,0.2,0.4,0.6,0.8,1],"format":".1f","title":null}}},
 "layer":[
  {"data":{"name":"lines"},"transform":[{"filter":"datum.p=='2a'"}],"mark":{"type":"line","color":"black","strokeWidth":1},"encoding":{"detail":{"field":"m"}}},
  {"data":{"name":"pts"},"transform":[{"filter":"datum.p=='2a'"}],"mark":{"type":"point","filled":true,"size":20,"strokeWidth":0.7,"opacity":1},"encoding":{"shape":{"field":"m","scale":{"domain":["C","M"],"range":["diamond","square"]},"legend":null},"fill":{"field":"m","scale":{"domain":["C","M"],"range":["black","transparent"]},"legend":null},"stroke":{"value":"black"}}},
  {"data":{"name":"notes"},"transform":[{"filter":"datum.p=='2a'"}],"mark":{"type":"text","font":"Liberation Serif","fontSize":9,"color":"black"},"encoding":{"text":{"field":"t"}}},
  {"data":{"name":"tags"},"transform":[{"filter":"datum.p=='2a'"}],"mark":{"type":"text","font":"Liberation Serif","fontSize":9.5,"fontWeight":"bold","align":"right","color":"black"},"encoding":{"text":{"field":"t"}}}
 ]},
{"width":201,"height":143,
 "encoding":{"x":{"field":"x","type":"quantitative","scale":{"domain":[0,40],"nice":false,"zero":false},"axis":{"values":[0,5,10,15,20,25,30,35,40],"title":null}},"y":{"field":"y","type":"quantitative","scale":{"domain":[0,1],"nice":false},"axis":{"values":[0,0.2,0.4,0.6,0.8,1],"format":".1f","title":null}}},
 "layer":[
  {"data":{"name":"lines"},"transform":[{"filter":"datum.p=='2b'"}],"mark":{"type":"line","color":"black","strokeWidth":1},"encoding":{"detail":{"field":"m"}}},
  {"data":{"name":"pts"},"transform":[{"filter":"datum.p=='2b'"}],"mark":{"type":"point","filled":true,"size":20,"strokeWidth":0.7,"opacity":1},"encoding":{"shape":{"field":"m","scale":{"domain":["C","M"],"range":["diamond","square"]},"legend":null},"fill":{"field":"m","scale":{"domain":["C","M"],"range":["black","transparent"]},"legend":null},"stroke":{"value":"black"}}},
  {"data":{"name":"notes"},"transform":[{"filter":"datum.p=='2b'"}],"mark":{"type":"text","font":"Liberation Serif","fontSize":9,"color":"black"},"encoding":{"text":{"field":"t"}}},
  {"data":{"name":"tags"},"transform":[{"filter":"datum.p=='2b'"}],"mark":{"type":"text","font":"Liberation Serif","fontSize":9.5,"fontWeight":"bold","align":"right","color":"black"},"encoding":{"text":{"field":"t"}}}
 ]},
{"width":201,"height":143,
 "encoding":{"x":{"field":"x","type":"quantitative","scale":{"domain":[0,40],"nice":false,"zero":false},"axis":{"values":[0,5,10,15,20,25,30,35,40],"title":null}},"y":{"field":"y","type":"quantitative","scale":{"domain":[0,1],"nice":false},"axis":{"values":[0,0.2,0.4,0.6,0.8,1],"format":".1f","title":null}}},
 "layer":[
  {"data":{"name":"lines"},"transform":[{"filter":"datum.p=='2c'"}],"mark":{"type":"line","color":"black","strokeWidth":1},"encoding":{"detail":{"field":"m"}}},
  {"data":{"name":"pts"},"transform":[{"filter":"datum.p=='2c'"}],"mark":{"type":"point","filled":true,"size":20,"strokeWidth":0.7,"opacity":1},"encoding":{"shape":{"field":"m","scale":{"domain":["C","M"],"range":["diamond","square"]},"legend":null},"fill":{"field":"m","scale":{"domain":["C","M"],"range":["black","transparent"]},"legend":null},"stroke":{"value":"black"}}},
  {"data":{"name":"notes"},"transform":[{"filter":"datum.p=='2c'"}],"mark":{"type":"text","font":"Liberation Serif","fontSize":9,"color":"black"},"encoding":{"text":{"field":"t"}}},
  {"data":{"name":"tags"},"transform":[{"filter":"datum.p=='2c'"}],"mark":{"type":"text","font":"Liberation Serif","fontSize":9.5,"fontWeight":"bold","align":"right","color":"black"},"encoding":{"text":{"field":"t"}}}
 ]},
{"width":201,"height":143,
 "encoding":{"x":{"field":"x","type":"quantitative","scale":{"domain":[0,75],"nice":false,"zero":false},"axis":{"values":[0,15,30,45,60,75],"title":null}},"y":{"field":"y","type":"quantitative","scale":{"domain":[0,1],"nice":false},"axis":{"values":[0,0.2,0.4,0.6,0.8,1],"format":".1f","title":"───────────────────────────────────────── Soil SiO₂ content (g kg⁻¹) ─────────────────────────────────────────","titlePadding":5}}},
 "layer":[
  {"data":{"name":"lines"},"transform":[{"filter":"datum.p=='3a'"}],"mark":{"type":"line","color":"black","strokeWidth":1},"encoding":{"detail":{"field":"m"}}},
  {"data":{"name":"pts"},"transform":[{"filter":"datum.p=='3a'"}],"mark":{"type":"point","filled":true,"size":20,"strokeWidth":0.7,"opacity":1},"encoding":{"shape":{"field":"m","scale":{"domain":["C","M"],"range":["diamond","square"]},"legend":null},"fill":{"field":"m","scale":{"domain":["C","M"],"range":["black","transparent"]},"legend":null},"stroke":{"value":"black"}}},
  {"data":{"name":"notes"},"transform":[{"filter":"datum.p=='3a'"}],"mark":{"type":"text","font":"Liberation Serif","fontSize":9,"color":"black"},"encoding":{"text":{"field":"t"}}},
  {"data":{"name":"tags"},"transform":[{"filter":"datum.p=='3a'"}],"mark":{"type":"text","font":"Liberation Serif","fontSize":9.5,"fontWeight":"bold","align":"right","color":"black"},"encoding":{"text":{"field":"t"}}},
  {"data":{"name":"arrows"},"transform":[{"filter":"datum.p=='3a'"}],"mark":{"type":"rule","color":"black","strokeWidth":0.8},"encoding":{"x2":{"field":"x2"},"y2":{"field":"y2"}}}
 ]},
{"width":201,"height":143,
 "encoding":{"x":{"field":"x","type":"quantitative","scale":{"domain":[0,40],"nice":false,"zero":false},"axis":{"values":[0,5,10,15,20,25,30,35,40],"title":null}},"y":{"field":"y","type":"quantitative","scale":{"domain":[0,1],"nice":false},"axis":{"values":[0,0.2,0.4,0.6,0.8,1],"format":".1f","title":null}}},
 "layer":[
  {"data":{"name":"lines"},"transform":[{"filter":"datum.p=='3b'"}],"mark":{"type":"line","color":"black","strokeWidth":1},"encoding":{"detail":{"field":"m"}}},
  {"data":{"name":"pts"},"transform":[{"filter":"datum.p=='3b'"}],"mark":{"type":"point","filled":true,"size":20,"strokeWidth":0.7,"opacity":1},"encoding":{"shape":{"field":"m","scale":{"domain":["C","M"],"range":["diamond","square"]},"legend":null},"fill":{"field":"m","scale":{"domain":["C","M"],"range":["black","transparent"]},"legend":null},"stroke":{"value":"black"}}},
  {"data":{"name":"notes"},"transform":[{"filter":"datum.p=='3b'"}],"mark":{"type":"text","font":"Liberation Serif","fontSize":9,"color":"black"},"encoding":{"text":{"field":"t"}}},
  {"data":{"name":"tags"},"transform":[{"filter":"datum.p=='3b'"}],"mark":{"type":"text","font":"Liberation Serif","fontSize":9.5,"fontWeight":"bold","align":"right","color":"black"},"encoding":{"text":{"field":"t"}}}
 ]},
{"width":201,"height":143,
 "encoding":{"x":{"field":"x","type":"quantitative","scale":{"domain":[0,40],"nice":false,"zero":false},"axis":{"values":[0,5,10,15,20,25,30,35,40],"title":null}},"y":{"field":"y","type":"quantitative","scale":{"domain":[0,1],"nice":false},"axis":{"values":[0,0.2,0.4,0.6,0.8,1],"format":".1f","title":null}}},
 "layer":[
  {"data":{"name":"lines"},"transform":[{"filter":"datum.p=='3c'"}],"mark":{"type":"line","color":"black","strokeWidth":1},"encoding":{"detail":{"field":"m"}}},
  {"data":{"name":"pts"},"transform":[{"filter":"datum.p=='3c'"}],"mark":{"type":"point","filled":true,"size":20,"strokeWidth":0.7,"opacity":1},"encoding":{"shape":{"field":"m","scale":{"domain":["C","M"],"range":["diamond","square"]},"legend":null},"fill":{"field":"m","scale":{"domain":["C","M"],"range":["black","transparent"]},"legend":null},"stroke":{"value":"black"}}},
  {"data":{"name":"notes"},"transform":[{"filter":"datum.p=='3c'"}],"mark":{"type":"text","font":"Liberation Serif","fontSize":9,"color":"black"},"encoding":{"text":{"field":"t"}}},
  {"data":{"name":"tags"},"transform":[{"filter":"datum.p=='3c'"}],"mark":{"type":"text","font":"Liberation Serif","fontSize":9.5,"fontWeight":"bold","align":"right","color":"black"},"encoding":{"text":{"field":"t"}}},
  {"data":{"name":"arrows"},"transform":[{"filter":"datum.p=='3c'"}],"mark":{"type":"rule","color":"black","strokeWidth":0.8},"encoding":{"x2":{"field":"x2"},"y2":{"field":"y2"}}}
 ]},
{"width":201,"height":143,
 "encoding":{"x":{"field":"x","type":"quantitative","scale":{"domain":[0,75],"nice":false,"zero":false},"axis":{"values":[0,15,30,45,60,75],"title":null}},"y":{"field":"y","type":"quantitative","scale":{"domain":[0,1],"nice":false},"axis":{"values":[0,0.2,0.4,0.6,0.8,1],"format":".1f","title":null}}},
 "layer":[
  {"data":{"name":"lines"},"transform":[{"filter":"datum.p=='4a'"}],"mark":{"type":"line","color":"black","strokeWidth":1},"encoding":{"detail":{"field":"m"}}},
  {"data":{"name":"pts"},"transform":[{"filter":"datum.p=='4a'"}],"mark":{"type":"point","filled":true,"size":20,"strokeWidth":0.7,"opacity":1},"encoding":{"shape":{"field":"m","scale":{"domain":["C","M"],"range":["diamond","square"]},"legend":null},"fill":{"field":"m","scale":{"domain":["C","M"],"range":["black","transparent"]},"legend":null},"stroke":{"value":"black"}}},
  {"data":{"name":"notes"},"transform":[{"filter":"datum.p=='4a'"}],"mark":{"type":"text","font":"Liberation Serif","fontSize":9,"color":"black"},"encoding":{"text":{"field":"t"}}},
  {"data":{"name":"tags"},"transform":[{"filter":"datum.p=='4a'"}],"mark":{"type":"text","font":"Liberation Serif","fontSize":9.5,"fontWeight":"bold","align":"right","color":"black"},"encoding":{"text":{"field":"t"}}},
  {"data":{"name":"arrows"},"transform":[{"filter":"datum.p=='4a'"}],"mark":{"type":"rule","color":"black","strokeWidth":0.8},"encoding":{"x2":{"field":"x2"},"y2":{"field":"y2"}}}
 ]},
{"width":201,"height":143,
 "encoding":{"x":{"field":"x","type":"quantitative","scale":{"domain":[0,40],"nice":false,"zero":false},"axis":{"values":[0,5,10,15,20,25,30,35,40],"title":null}},"y":{"field":"y","type":"quantitative","scale":{"domain":[0,1],"nice":false},"axis":{"values":[0,0.2,0.4,0.6,0.8,1],"format":".1f","title":null}}},
 "layer":[
  {"data":{"name":"lines"},"transform":[{"filter":"datum.p=='4b'"}],"mark":{"type":"line","color":"black","strokeWidth":1},"encoding":{"detail":{"field":"m"}}},
  {"data":{"name":"pts"},"transform":[{"filter":"datum.p=='4b'"}],"mark":{"type":"point","filled":true,"size":20,"strokeWidth":0.7,"opacity":1},"encoding":{"shape":{"field":"m","scale":{"domain":["C","M"],"range":["diamond","square"]},"legend":null},"fill":{"field":"m","scale":{"domain":["C","M"],"range":["black","transparent"]},"legend":null},"stroke":{"value":"black"}}},
  {"data":{"name":"notes"},"transform":[{"filter":"datum.p=='4b'"}],"mark":{"type":"text","font":"Liberation Serif","fontSize":9,"color":"black"},"encoding":{"text":{"field":"t"}}},
  {"data":{"name":"tags"},"transform":[{"filter":"datum.p=='4b'"}],"mark":{"type":"text","font":"Liberation Serif","fontSize":9.5,"fontWeight":"bold","align":"right","color":"black"},"encoding":{"text":{"field":"t"}}},
  {"data":{"name":"arrows"},"transform":[{"filter":"datum.p=='4b'"}],"mark":{"type":"rule","color":"black","strokeWidth":0.8},"encoding":{"x2":{"field":"x2"},"y2":{"field":"y2"}}}
 ]},
{"width":201,"height":143,
 "encoding":{"x":{"field":"x","type":"quantitative","scale":{"domain":[0,40],"nice":false,"zero":false},"axis":{"values":[0,5,10,15,20,25,30,35,40],"title":null}},"y":{"field":"y","type":"quantitative","scale":{"domain":[0,1],"nice":false},"axis":{"values":[0,0.2,0.4,0.6,0.8,1],"format":".1f","title":null}}},
 "layer":[
  {"data":{"name":"lines"},"transform":[{"filter":"datum.p=='4c'"}],"mark":{"type":"line","color":"black","strokeWidth":1},"encoding":{"detail":{"field":"m"}}},
  {"data":{"name":"pts"},"transform":[{"filter":"datum.p=='4c'"}],"mark":{"type":"point","filled":true,"size":20,"strokeWidth":0.7,"opacity":1},"encoding":{"shape":{"field":"m","scale":{"domain":["C","M"],"range":["diamond","square"]},"legend":null},"fill":{"field":"m","scale":{"domain":["C","M"],"range":["black","transparent"]},"legend":null},"stroke":{"value":"black"}}},
  {"data":{"name":"notes"},"transform":[{"filter":"datum.p=='4c'"}],"mark":{"type":"text","font":"Liberation Serif","fontSize":9,"color":"black"},"encoding":{"text":{"field":"t"}}},
  {"data":{"name":"tags"},"transform":[{"filter":"datum.p=='4c'"}],"mark":{"type":"text","font":"Liberation Serif","fontSize":9.5,"fontWeight":"bold","align":"right","color":"black"},"encoding":{"text":{"field":"t"}}},
  {"data":{"name":"arrows"},"transform":[{"filter":"datum.p=='4c'"}],"mark":{"type":"rule","color":"black","strokeWidth":0.8},"encoding":{"x2":{"field":"x2"},"y2":{"field":"y2"}}}
 ]},
{"width":201,"height":143,
 "encoding":{"x":{"field":"x","type":"quantitative","scale":{"domain":[0,300],"nice":false,"zero":false},"axis":{"values":[0,50,100,150,200,250,300],"title":null}},"y":{"field":"y","type":"quantitative","scale":{"domain":[0,1],"nice":false},"axis":{"values":[0,0.2,0.4,0.6,0.8,1],"format":".1f","title":null}}},
 "layer":[
  {"data":{"name":"lines"},"transform":[{"filter":"datum.p=='5a'"}],"mark":{"type":"line","color":"black","strokeWidth":1},"encoding":{"detail":{"field":"m"}}},
  {"data":{"name":"pts"},"transform":[{"filter":"datum.p=='5a'"}],"mark":{"type":"point","filled":true,"size":20,"strokeWidth":0.7,"opacity":1},"encoding":{"shape":{"field":"m","scale":{"domain":["C","M"],"range":["diamond","square"]},"legend":null},"fill":{"field":"m","scale":{"domain":["C","M"],"range":["black","transparent"]},"legend":null},"stroke":{"value":"black"}}},
  {"data":{"name":"notes"},"transform":[{"filter":"datum.p=='5a'"}],"mark":{"type":"text","font":"Liberation Serif","fontSize":9,"color":"black"},"encoding":{"text":{"field":"t"}}},
  {"data":{"name":"tags"},"transform":[{"filter":"datum.p=='5a'"}],"mark":{"type":"text","font":"Liberation Serif","fontSize":9.5,"fontWeight":"bold","align":"right","color":"black"},"encoding":{"text":{"field":"t"}}}
 ]},
{"width":201,"height":143,
 "encoding":{"x":{"field":"x","type":"quantitative","scale":{"domain":[0,100],"nice":false,"zero":false},"axis":{"values":[0,20,40,60,80,100],"title":"────────────────────────────── Soil Si content (mg dm⁻³) ──────────────────────────────","titlePadding":9}},"y":{"field":"y","type":"quantitative","scale":{"domain":[0,1],"nice":false},"axis":{"values":[0,0.2,0.4,0.6,0.8,1],"format":".1f","title":null}}},
 "layer":[
  {"data":{"name":"lines"},"transform":[{"filter":"datum.p=='5b'"}],"mark":{"type":"line","color":"black","strokeWidth":1},"encoding":{"detail":{"field":"m"}}},
  {"data":{"name":"pts"},"transform":[{"filter":"datum.p=='5b'"}],"mark":{"type":"point","filled":true,"size":20,"strokeWidth":0.7,"opacity":1},"encoding":{"shape":{"field":"m","scale":{"domain":["C","M"],"range":["diamond","square"]},"legend":null},"fill":{"field":"m","scale":{"domain":["C","M"],"range":["black","transparent"]},"legend":null},"stroke":{"value":"black"}}},
  {"data":{"name":"notes"},"transform":[{"filter":"datum.p=='5b'"}],"mark":{"type":"text","font":"Liberation Serif","fontSize":9,"color":"black"},"encoding":{"text":{"field":"t"}}},
  {"data":{"name":"tags"},"transform":[{"filter":"datum.p=='5b'"}],"mark":{"type":"text","font":"Liberation Serif","fontSize":9.5,"fontWeight":"bold","align":"right","color":"black"},"encoding":{"text":{"field":"t"}}}
 ]},
{"width":201,"height":143,
 "encoding":{"x":{"field":"x","type":"quantitative","scale":{"domain":[0,100],"nice":false,"zero":false},"axis":{"values":[0,20,40,60,80,100],"title":null}},"y":{"field":"y","type":"quantitative","scale":{"domain":[0,1],"nice":false},"axis":{"values":[0,0.2,0.4,0.6,0.8,1],"format":".1f","title":null}}},
 "layer":[
  {"data":{"name":"lines"},"transform":[{"filter":"datum.p=='5c'"}],"mark":{"type":"line","color":"black","strokeWidth":1},"encoding":{"detail":{"field":"m"}}},
  {"data":{"name":"pts"},"transform":[{"filter":"datum.p=='5c'"}],"mark":{"type":"point","filled":true,"size":20,"strokeWidth":0.7,"opacity":1},"encoding":{"shape":{"field":"m","scale":{"domain":["C","M"],"range":["diamond","square"]},"legend":null},"fill":{"field":"m","scale":{"domain":["C","M"],"range":["black","transparent"]},"legend":null},"stroke":{"value":"black"}}},
  {"data":{"name":"notes"},"transform":[{"filter":"datum.p=='5c'"}],"mark":{"type":"text","font":"Liberation Serif","fontSize":9,"color":"black"},"encoding":{"text":{"field":"t"}}},
  {"data":{"name":"tags"},"transform":[{"filter":"datum.p=='5c'"}],"mark":{"type":"text","font":"Liberation Serif","fontSize":9.5,"fontWeight":"bold","align":"right","color":"black"},"encoding":{"text":{"field":"t"}}},
  {"data":{"name":"arrows"},"transform":[{"filter":"datum.p=='5c'"}],"mark":{"type":"rule","color":"black","strokeWidth":0.8},"encoding":{"x2":{"field":"x2"},"y2":{"field":"y2"}}}
 ]}
]
}
